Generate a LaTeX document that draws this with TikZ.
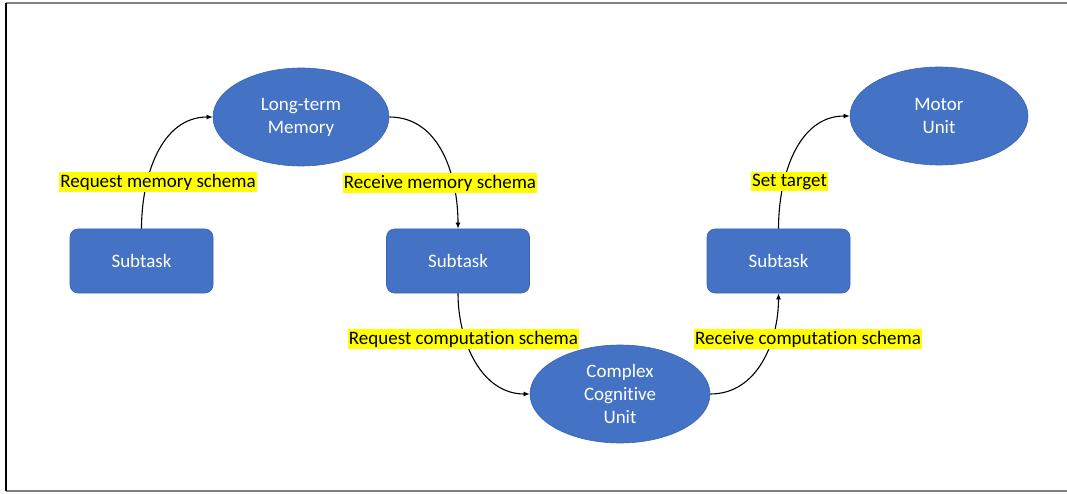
\documentclass[tikz,border=0pt]{standalone}
\usepackage{fontspec}
\setmainfont{Carlito}[RawFeature=-liga]
\usetikzlibrary{shapes.geometric,arrows.meta}
\definecolor{boxblue}{HTML}{4472C4}
\definecolor{edgeblue}{HTML}{3A64AE}
\definecolor{hilite}{HTML}{FFFF00}
\definecolor{framegray}{HTML}{808080}
\begin{document}
\begin{tikzpicture}[x=1pt,y=-1pt,
  txt/.style={font=\fontsize{19}{23}\selectfont},
  subtaskbox/.style={txt, rectangle, rounded corners=8pt, fill=boxblue, draw=edgeblue,
    line width=0.6pt, text=white, minimum width=143pt, minimum height=64pt, inner sep=0pt},
  unit/.style={txt, ellipse, fill=boxblue, draw=edgeblue, line width=0.6pt, text=white,
    minimum width=178pt, minimum height=98pt, inner sep=0pt, align=center},
  flow/.style={line width=1.1pt, -{Latex[length=6pt,width=5pt]}},
  tag/.style={txt, fill=hilite, inner xsep=1pt, inner ysep=1.5pt, text=black}
]
\useasboundingbox (0,0) rectangle (1067,494);
% page frame
\coordinate (ftl) at (6,3);
\coordinate (ftr) at (1067,3);
\coordinate (fbl) at (6,491);
\coordinate (fbr) at (1067,491);
\draw[framegray, line width=1.5pt] (ftl) -- (ftr);
\draw[framegray, line width=1.5pt] (fbl) -- (fbr);
\draw[black, line width=1.3pt] (ftl) -- (fbl);

% nodes
\node[subtaskbox] (s1) at (141.5,261) {Subtask};
\node[subtaskbox] (s2) at (458,261) {Subtask};
\node[subtaskbox] (s3) at (778.5,261) {Subtask};
\node[unit, minimum width=176pt] (ltm) at (301,117) {Long-term\\Memory};
\node[unit] (mot) at (939,116) {Motor\\Unit};
\node[unit, minimum width=180pt] (ccu) at (620,394) {Complex\\Cognitive\\Unit};

% connectors
\draw[flow] (s1.north) to[out=90,in=180] (ltm.west);
\draw[flow] (ltm.east) to[out=0,in=90] (s2.north);
\draw[flow] (s2.south) to[out=-90,in=180] (ccu.west);
\draw[flow] (ccu.east) to[out=0,in=-90] (s3.south);
\draw[flow] (s3.north) to[out=90,in=180] (mot.west);

% labels
\node[tag] (l1) at (158,182) {Request memory schema};
\node[tag] (l2) at (440,183) {Receive memory schema};
\node[tag] (l3) at (789.5,181.5) {Set target};
\node[tag] (l4) at (463.5,339) {Request computation schema};
\node[tag] (l5) at (808,339) {Receive computation schema};
\end{tikzpicture}
\end{document}
